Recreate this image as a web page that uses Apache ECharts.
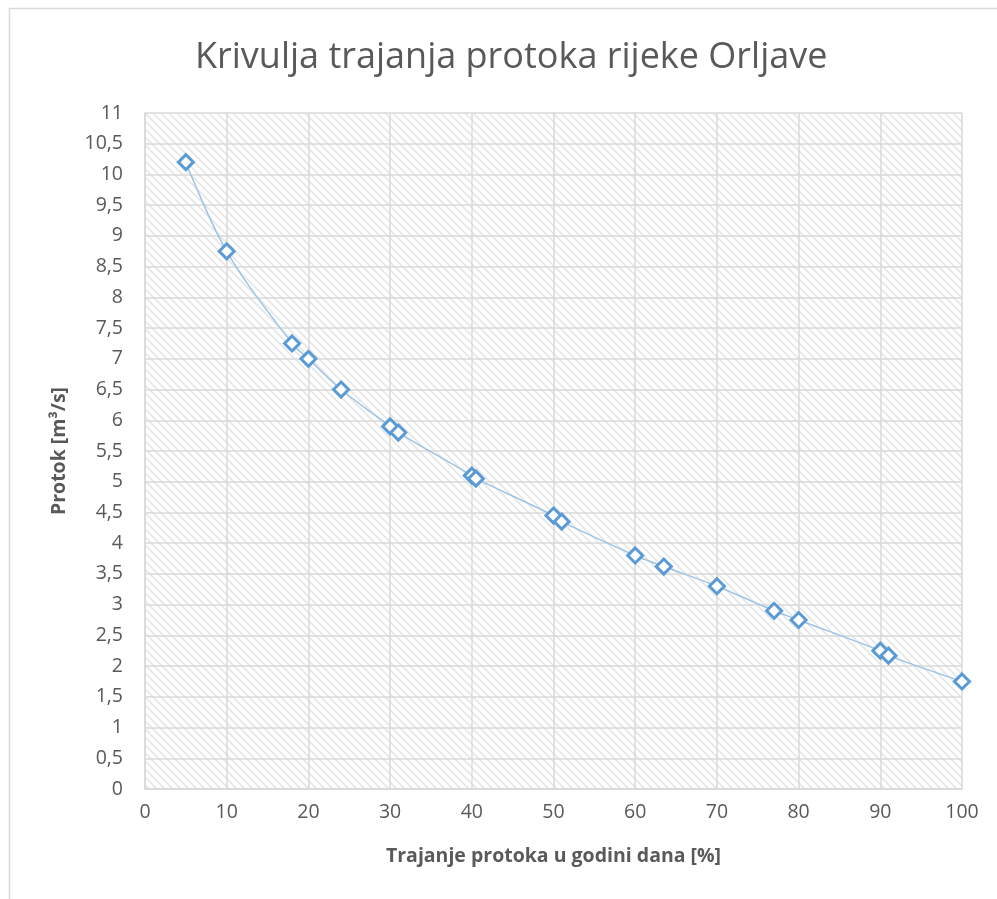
<!DOCTYPE html>
<html>
<head>
<meta charset="utf-8">
<script src="https://cdn.jsdelivr.net/npm/echarts@6/dist/echarts.min.js"></script>
<style>
  html, body { margin: 0; padding: 0; background: #ffffff; }
  #chart { width: 997px; height: 899px; }
</style>
</head>
<body>
<div id="chart"></div>
<script>
// Flow duration curve: share of the year (%) vs. discharge (m³/s)
const durations = [5, 10, 18, 20, 24, 30, 31, 40, 40.5, 50, 51, 60, 63.5, 70, 77, 80, 90, 91, 100];
const flows = [10.2, 8.75, 7.25, 7.0, 6.5, 5.9, 5.8, 5.1, 5.05, 4.45, 4.35, 3.8, 3.62, 3.3, 2.9, 2.75, 2.25, 2.17, 1.75];

const titleText = 'Krivulja trajanja protoka rijeke Orljave';
const xName = 'Trajanje protoka u godini dana [%]';
const yName = 'Protok [m³/s]';

// Wide downward-diagonal hatch for the plot background
function hatchPattern() {
  const c = document.createElement('canvas');
  c.width = 8; c.height = 8;
  const g = c.getContext('2d');
  g.fillStyle = '#ffffff';
  g.fillRect(0, 0, 8, 8);
  g.strokeStyle = '#e6e6e6';
  g.lineWidth = 1.6;
  g.beginPath();
  g.moveTo(-2, -2); g.lineTo(10, 10);
  g.moveTo(-10, -2); g.lineTo(2, 10);
  g.moveTo(6, -2); g.lineTo(18, 10);
  g.stroke();
  return c;
}

const points = durations.map((d, i) => [d, flows[i]]);
const textColor = '#595959';
const gridColor = '#d9d9d9';
const font = "'Open Sans', 'Noto Sans', sans-serif";

const chart = echarts.init(document.getElementById('chart'), null, { renderer: 'canvas' });
chart.setOption({
  backgroundColor: '#ffffff',
  animation: false,
  title: {
    text: titleText,
    left: 190,
    top: 35,
    textStyle: { color: textColor, fontSize: 36, fontWeight: 'normal', fontFamily: font }
  },
  graphic: [{
    type: 'rect',
    shape: { x: 9.5, y: 8.5, width: 1000, height: 1000 },
    style: { fill: 'none', stroke: gridColor, lineWidth: 1.5 },
    silent: true
  }],
  grid: {
    left: 145, top: 113, width: 817, height: 676,
    show: true,
    borderWidth: 0,
    backgroundColor: { image: hatchPattern(), repeat: 'repeat' }
  },
  xAxis: {
    type: 'value',
    min: 0, max: 100, interval: 10,
    name: xName,
    nameLocation: 'middle',
    nameGap: 57,
    nameTextStyle: { color: textColor, fontSize: 19.5, fontWeight: 'bold', fontFamily: font },
    axisLine: { show: true, lineStyle: { color: gridColor, width: 1.5 } },
    axisTick: { show: false },
    axisLabel: { color: textColor, fontSize: 19.5, margin: 13, fontFamily: font },
    splitLine: { show: true, lineStyle: { color: gridColor, width: 1.5 } }
  },
  yAxis: {
    type: 'value',
    min: 0, max: 11, interval: 0.5,
    name: yName,
    nameLocation: 'middle',
    nameGap: 76,
    nameTextStyle: { color: textColor, fontSize: 19.5, fontWeight: 'bold', fontFamily: font },
    axisLine: { show: true, lineStyle: { color: gridColor, width: 1.5 } },
    axisTick: { show: false },
    axisLabel: {
      color: textColor, fontSize: 19.5, margin: 22, fontFamily: font,
      formatter: v => String(v).replace('.', ',')
    },
    splitLine: { show: true, lineStyle: { color: gridColor, width: 1.5 } }
  },
  series: [{
    type: 'line',
    data: points,
    smooth: 0.35,
    symbol: 'diamond',
    symbolSize: 15,
    showAllSymbol: true,
    lineStyle: { color: '#9dc3e6', width: 1.5 },
    itemStyle: { color: '#ffffff', borderColor: '#5b9bd5', borderWidth: 3 },
    z: 3
  }]
});
</script>
</body>
</html>
